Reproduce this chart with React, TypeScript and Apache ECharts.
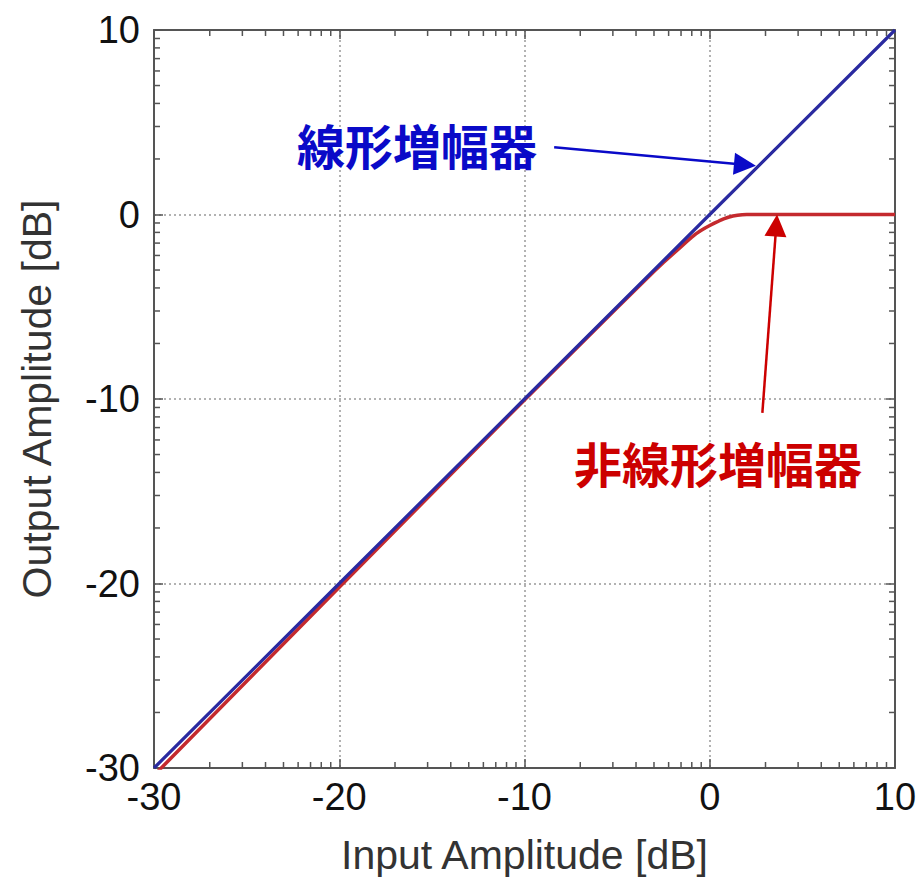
import React, { useEffect, useRef } from "react";
import * as echarts from "echarts";

const linearIn = [-30, -20, -10, 0, 10];
const linearOut = [-30, -20, -10, 0, 10];
const nonlinIn = [-30, -20, -10, -5, -3, -2.5, -2, -1.5, -1.25, -1, -0.75, -0.5, -0.25, 0, 0.25, 0.5, 0.75, 1, 1.25, 1.5, 1.75, 2, 5, 10];
const nonlinOut = [-30.4, -20.2, -10.05, -5.05, -3.08, -2.6, -2.15, -1.7, -1.47, -1.25, -1.05, -0.88, -0.73, -0.6, -0.47, -0.35, -0.24, -0.15, -0.08, -0.04, -0.01, 0, 0, 0];
// minor (log-spaced) tick values within each decade
const minorTicks = [
  -26.99, -25.23, -23.98, -23.01, -22.22, -21.55, -20.97, -20.46,
  -16.99, -15.23, -13.98, -13.01, -12.22, -11.55, -10.97, -10.46,
  -6.99, -5.23, -3.98, -3.01, -2.22, -1.55, -0.97, -0.46,
  3.01, 4.77, 6.02, 6.99, 7.78, 8.45, 9.03, 9.54,
];
const linearLabel = "線形増幅器";
const nonlinLabel = "非線形増幅器";
const xTitle = "Input Amplitude [dB]";
const yTitle = "Output Amplitude [dB]";
const blueArrow = [[-8.4, 3.64], [1.9, 2.7]];
const redArrow = [[2.84, -10.75], [3.59, -0.6]];

export default function App() {
  const ref = useRef<HTMLDivElement>(null);
  useEffect(() => {
    const chart = echarts.init(ref.current!, null, { renderer: "svg" });
    const numFont = "'Liberation Sans', Arial, sans-serif";
    const axisLine = { show: true, onZero: false, lineStyle: { color: "#555", width: 2 } };
    const tick = { show: true, inside: true, length: 9, lineStyle: { color: "#555", width: 1.5 } };
    const split = { show: true, lineStyle: { color: "#999", type: [2, 3] as any, width: 1.5 } };
    chart.setOption({
      animation: false,
      grid: { left: 144, right: 29, top: 22, bottom: 108 },
      xAxis: [
        {
          type: "value", min: -30, max: 10, interval: 10, position: "bottom",
          axisLine, axisTick: tick, splitLine: split,
          axisLabel: { fontSize: 38, color: "#111", fontFamily: numFont, margin: 10 },
          name: xTitle, nameLocation: "middle", nameGap: 66,
          nameTextStyle: { fontSize: 41, color: "#333", fontFamily: numFont },
        },
        {
          type: "value", min: -30, max: 10, interval: 10, position: "top",
          axisLine, axisTick: tick, splitLine: { show: false }, axisLabel: { show: false },
        },
      ],
      yAxis: [
        {
          type: "value", min: -30, max: 10, interval: 10, position: "left",
          axisLine, axisTick: tick, splitLine: split,
          axisLabel: { fontSize: 38, color: "#111", fontFamily: numFont, margin: 14 },
          name: yTitle, nameLocation: "middle", nameGap: 97,
          nameTextStyle: { fontSize: 41, color: "#333", fontFamily: numFont },
        },
        {
          type: "value", min: -30, max: 10, interval: 10, position: "right",
          axisLine, axisTick: tick, splitLine: { show: false }, axisLabel: { show: false },
        },
      ],
      series: [
        {
          type: "custom",
          data: minorTicks.map((v) => [v]),
          silent: true,
          z: 5,
          renderItem: (params: any, api: any) => {
            const v = api.value(0);
            const b = api.coord([v, -30]);
            const t = api.coord([v, 10]);
            const l = api.coord([-30, v]);
            const r = api.coord([10, v]);
            const len = 6;
            const style = { stroke: "#555", lineWidth: 1.5 };
            return {
              type: "group",
              children: [
                { type: "line", shape: { x1: b[0], y1: b[1], x2: b[0], y2: b[1] - len }, style },
                { type: "line", shape: { x1: t[0], y1: t[1], x2: t[0], y2: t[1] + len }, style },
                { type: "line", shape: { x1: l[0], y1: l[1], x2: l[0] + len, y2: l[1] }, style },
                { type: "line", shape: { x1: r[0], y1: r[1], x2: r[0] - len, y2: r[1] }, style },
              ],
            };
          },
        },
        {
          type: "line",
          data: nonlinIn.map((x, i) => [x, nonlinOut[i]]),
          smooth: false,
          showSymbol: false,
          lineStyle: { color: "#c42a2e", width: 3.5, join: "round" },
          z: 3,
        },
        {
          type: "line",
          data: linearIn.map((x, i) => [x, linearOut[i]]),
          showSymbol: false,
          lineStyle: { color: "#2a2aa0", width: 3.2 },
          z: 4,
        },
        {
          type: "lines",
          coordinateSystem: "cartesian2d",
          data: [{ coords: blueArrow }],
          symbol: ["none", "triangle"],
          symbolSize: [0, 22],
          lineStyle: { color: "#0a0ac8", width: 2.5, opacity: 1, curveness: 0 },
          itemStyle: { color: "#0a0ac8" },
          z: 6,
        },
        {
          type: "lines",
          coordinateSystem: "cartesian2d",
          data: [{ coords: redArrow }],
          symbol: ["none", "triangle"],
          symbolSize: [0, 22],
          lineStyle: { color: "#cc0000", width: 2.5, opacity: 1, curveness: 0 },
          itemStyle: { color: "#cc0000" },
          z: 6,
        },
      ],
      graphic: [
        {
          type: "text", left: 289, top: 112, z: 10,
          style: {
            text: linearLabel, fill: "#0a0ac8", fontSize: 48, fontWeight: "bold",
            fontFamily: "'Noto Sans CJK JP', sans-serif",
          },
        },
        {
          type: "text", left: 566, top: 430, z: 10,
          style: {
            text: nonlinLabel, fill: "#cc0000", fontSize: 48, fontWeight: "bold",
            fontFamily: "'Noto Sans CJK JP', sans-serif",
          },
        },
      ],
    });
    return () => chart.dispose();
  }, []);
  return <div ref={ref} style={{ width: 916, height: 872 }} />;
}
